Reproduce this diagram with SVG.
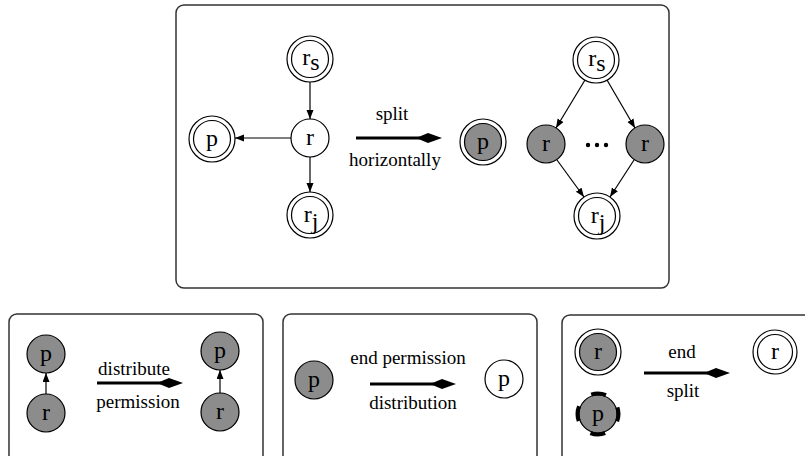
<svg xmlns="http://www.w3.org/2000/svg" width="805" height="456" viewBox="0 0 805 456">
  <style>
    .box { fill: #fff; stroke: #333; stroke-width: 1.5; }
    .node { fill: #fff; stroke: #000; stroke-width: 1.2; }
    .gray { fill: #8c8c8c; }
    .edge { stroke: #000; stroke-width: 1.2; fill: none; marker-end: url(#tip); }
    .bigline { stroke: #000; stroke-width: 3; fill: none; }
    .bighead { fill: #000; stroke: none; }
    .lbl { font-family: "Liberation Serif", "Times New Roman", serif; font-size: 24px; text-anchor: middle; fill: #000; }
    .cap { font-family: "Liberation Serif", "Times New Roman", serif; font-size: 19px; text-anchor: middle; fill: #000; }
    .dots { fill: #000; }
    .ring { fill: none; stroke: #000; stroke-width: 4; stroke-dasharray: 15 17.2; stroke-dashoffset: 7.5; }
  </style>
  <defs>
    <marker id="tip" markerUnits="userSpaceOnUse" markerWidth="10" markerHeight="8" refX="9" refY="3.5" orient="auto">
      <path d="M0,0 L9,3.5 L0,7 Z" fill="#000"/>
    </marker>
  </defs>

  <!-- frames -->
  <rect class="box" x="176" y="5" width="493" height="283" rx="8"/>
  <rect class="box" x="9" y="314" width="254" height="160" rx="8"/>
  <rect class="box" x="283" y="314" width="254" height="160" rx="8"/>
  <rect class="box" x="562" y="315" width="260" height="160" rx="8"/>

  <!-- connectors -->
  <g id="connectors">
    <line class="edge" x1="310" y1="82" x2="310" y2="119"/>
    <line class="edge" x1="291" y1="138" x2="235" y2="138"/>
    <line class="edge" x1="310" y1="157" x2="310" y2="192"/>
    <line class="edge" x1="585" y1="80" x2="556" y2="128"/>
    <line class="edge" x1="607" y1="80" x2="635" y2="128"/>
    <line class="edge" x1="557" y1="160" x2="584" y2="197"/>
    <line class="edge" x1="634" y1="160" x2="610" y2="197"/>
    <line class="edge" x1="46" y1="394" x2="46" y2="373"/>
    <line class="edge" x1="220" y1="393" x2="220" y2="370"/>

    <!-- transformation arrows -->
    <line class="bigline" x1="356" y1="138" x2="420" y2="138"/>
    <path class="bighead" d="M416,138 L428,133 L442,138 L428,143 Z"/>
    <line class="bigline" x1="97" y1="383" x2="161" y2="383"/>
    <path class="bighead" d="M157,383 L169,378 L183,383 L169,388 Z"/>
    <line class="bigline" x1="370" y1="384" x2="434" y2="384"/>
    <path class="bighead" d="M430,384 L442,379 L456,384 L442,389 Z"/>
    <line class="bigline" x1="644" y1="373" x2="708" y2="373"/>
    <path class="bighead" d="M704,373 L716,368 L730,373 L716,378 Z"/>
  </g>

  <!-- arrow captions -->
  <text class="cap" x="392" y="120">split</text>
  <text class="cap" x="395" y="166">horizontally</text>
  <text class="cap" x="134" y="375">distribute</text>
  <text class="cap" x="138" y="408">permission</text>
  <text class="cap" x="408" y="364">end permission</text>
  <text class="cap" x="413" y="409">distribution</text>
  <text class="cap" x="682" y="358">end</text>
  <text class="cap" x="683" y="397">split</text>

  <!-- before split -->
  <g id="rs-a">
    <circle class="node" cx="310" cy="59" r="23"/>
    <circle class="node" cx="310" cy="59" r="18.5"/>
    <text class="lbl" x="311" y="65">r<tspan dy="5">s</tspan></text>
  </g>
  <g id="r-a">
    <circle class="node" cx="310" cy="138" r="19"/>
    <text class="lbl" x="310" y="145">r</text>
  </g>
  <g id="p-a">
    <circle class="node" cx="212" cy="139" r="23"/>
    <circle class="node" cx="212" cy="139" r="18.5"/>
    <text class="lbl" x="212" y="146">p</text>
  </g>
  <g id="rj-a">
    <circle class="node" cx="310" cy="215" r="23"/>
    <circle class="node" cx="310" cy="215" r="18.5"/>
    <text class="lbl" x="311" y="222">r<tspan dy="7">j</tspan></text>
  </g>

  <!-- after split -->
  <g id="p-b">
    <circle class="node" cx="483" cy="142" r="23"/>
    <circle class="node gray" cx="483" cy="142" r="18.5"/>
    <text class="lbl" x="483" y="149">p</text>
  </g>
  <g id="rs-b">
    <circle class="node" cx="596" cy="60" r="23"/>
    <circle class="node" cx="596" cy="60" r="18.5"/>
    <text class="lbl" x="597" y="66">r<tspan dy="5">s</tspan></text>
  </g>
  <g id="r-b1">
    <circle class="node gray" cx="546" cy="144" r="19"/>
    <text class="lbl" x="546" y="151">r</text>
  </g>
  <g id="r-b2">
    <circle class="node gray" cx="645" cy="144" r="19"/>
    <text class="lbl" x="645" y="151">r</text>
  </g>
  <g id="ellipsis">
    <circle class="dots" cx="588" cy="145" r="2.2"/>
    <circle class="dots" cx="597" cy="145" r="2.2"/>
    <circle class="dots" cx="606" cy="145" r="2.2"/>
  </g>
  <g id="rj-b">
    <circle class="node" cx="597" cy="216" r="23"/>
    <circle class="node" cx="597" cy="216" r="18.5"/>
    <text class="lbl" x="598" y="223">r<tspan dy="7">j</tspan></text>
  </g>

  <!-- distribute permission -->
  <g id="p-c">
    <circle class="node gray" cx="46" cy="354" r="19"/>
    <text class="lbl" x="46" y="361">p</text>
  </g>
  <g id="r-c">
    <circle class="node gray" cx="46" cy="413" r="19"/>
    <text class="lbl" x="46" y="420">r</text>
  </g>
  <g id="p-d">
    <circle class="node gray" cx="220" cy="351" r="19"/>
    <text class="lbl" x="220" y="358">p</text>
  </g>
  <g id="r-d">
    <circle class="node gray" cx="220" cy="412" r="19"/>
    <text class="lbl" x="220" y="419">r</text>
  </g>

  <!-- end permission distribution -->
  <g id="p-e">
    <circle class="node gray" cx="314" cy="380" r="19"/>
    <text class="lbl" x="314" y="387">p</text>
  </g>
  <g id="p-f">
    <circle class="node" cx="504" cy="379" r="19"/>
    <text class="lbl" x="504" y="386">p</text>
  </g>

  <!-- end split -->
  <g id="r-g">
    <circle class="node" cx="598" cy="352" r="23"/>
    <circle class="node gray" cx="598" cy="352" r="18.5"/>
    <text class="lbl" x="598" y="359">r</text>
  </g>
  <g id="p-g">
    <circle class="node gray" cx="598" cy="414" r="19"/>
    <circle class="ring" cx="598" cy="414" r="20.5"/>
    <text class="lbl" x="598" y="421">p</text>
  </g>
  <g id="r-h">
    <circle class="node" cx="775" cy="352" r="22"/>
    <circle class="node" cx="775" cy="352" r="17.5"/>
    <text class="lbl" x="775" y="359">r</text>
  </g>
</svg>
